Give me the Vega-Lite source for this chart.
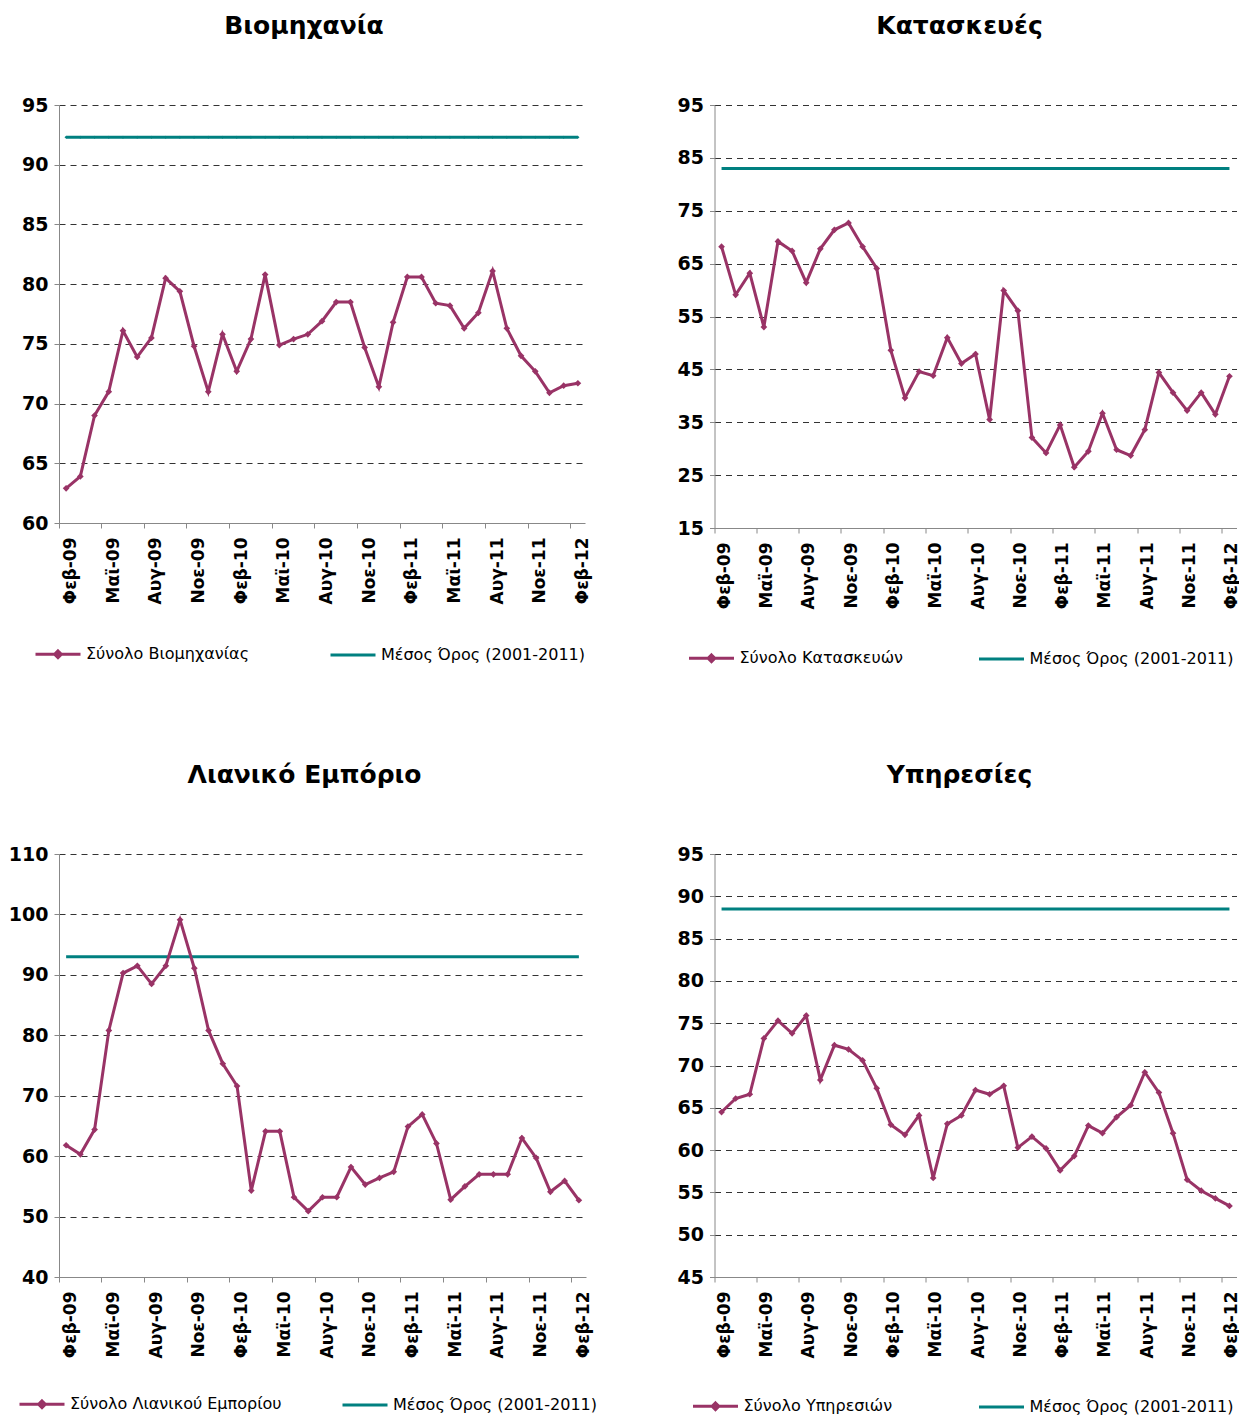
{
  "$schema": "https://vega.github.io/schema/vega-lite/v6.json",
  "padding": {"left": 5, "top": 14, "right": 0, "bottom": 0},
  "background": "white",
  "data": {"values": [
    {"m":"Φεβ-09","ind":62.9,"indAvg":92.3,"con":68.2,"conAvg":83,"ret":61.8,"retAvg":93,"ser":64.5,"serAvg":88.5},
    {"m":"Μαρ-09","ind":63.9,"indAvg":92.3,"con":59.1,"conAvg":83,"ret":60.3,"retAvg":93,"ser":66.1,"serAvg":88.5},
    {"m":"Απρ-09","ind":69.0,"indAvg":92.3,"con":63.2,"conAvg":83,"ret":64.4,"retAvg":93,"ser":66.6,"serAvg":88.5},
    {"m":"Μαϊ-09","ind":71.0,"indAvg":92.3,"con":53.0,"conAvg":83,"ret":80.8,"retAvg":93,"ser":73.2,"serAvg":88.5},
    {"m":"Ιουν-09","ind":76.1,"indAvg":92.3,"con":69.2,"conAvg":83,"ret":90.3,"retAvg":93,"ser":75.3,"serAvg":88.5},
    {"m":"Ιουλ-09","ind":73.9,"indAvg":92.3,"con":67.4,"conAvg":83,"ret":91.5,"retAvg":93,"ser":73.8,"serAvg":88.5},
    {"m":"Αυγ-09","ind":75.5,"indAvg":92.3,"con":61.4,"conAvg":83,"ret":88.5,"retAvg":93,"ser":75.9,"serAvg":88.5},
    {"m":"Σεπ-09","ind":80.5,"indAvg":92.3,"con":67.8,"conAvg":83,"ret":91.5,"retAvg":93,"ser":68.3,"serAvg":88.5},
    {"m":"Οκτ-09","ind":79.4,"indAvg":92.3,"con":71.4,"conAvg":83,"ret":99.1,"retAvg":93,"ser":72.4,"serAvg":88.5},
    {"m":"Νοε-09","ind":74.8,"indAvg":92.3,"con":72.7,"conAvg":83,"ret":91.1,"retAvg":93,"ser":71.9,"serAvg":88.5},
    {"m":"Δεκ-09","ind":71.0,"indAvg":92.3,"con":68.2,"conAvg":83,"ret":80.8,"retAvg":93,"ser":70.6,"serAvg":88.5},
    {"m":"Ιαν-10","ind":75.8,"indAvg":92.3,"con":64.1,"conAvg":83,"ret":75.3,"retAvg":93,"ser":67.3,"serAvg":88.5},
    {"m":"Φεβ-10","ind":72.7,"indAvg":92.3,"con":48.6,"conAvg":83,"ret":71.6,"retAvg":93,"ser":63.0,"serAvg":88.5},
    {"m":"Μαρ-10","ind":75.4,"indAvg":92.3,"con":39.6,"conAvg":83,"ret":54.3,"retAvg":93,"ser":61.8,"serAvg":88.5},
    {"m":"Απρ-10","ind":80.8,"indAvg":92.3,"con":44.6,"conAvg":83,"ret":64.1,"retAvg":93,"ser":64.1,"serAvg":88.5},
    {"m":"Μαϊ-10","ind":74.9,"indAvg":92.3,"con":43.8,"conAvg":83,"ret":64.1,"retAvg":93,"ser":56.7,"serAvg":88.5},
    {"m":"Ιουν-10","ind":75.4,"indAvg":92.3,"con":51.0,"conAvg":83,"ret":53.2,"retAvg":93,"ser":63.1,"serAvg":88.5},
    {"m":"Ιουλ-10","ind":75.8,"indAvg":92.3,"con":46.1,"conAvg":83,"ret":50.9,"retAvg":93,"ser":64.1,"serAvg":88.5},
    {"m":"Αυγ-10","ind":76.9,"indAvg":92.3,"con":47.9,"conAvg":83,"ret":53.2,"retAvg":93,"ser":67.1,"serAvg":88.5},
    {"m":"Σεπ-10","ind":78.5,"indAvg":92.3,"con":35.5,"conAvg":83,"ret":53.2,"retAvg":93,"ser":66.6,"serAvg":88.5},
    {"m":"Οκτ-10","ind":78.5,"indAvg":92.3,"con":59.9,"conAvg":83,"ret":58.2,"retAvg":93,"ser":67.6,"serAvg":88.5},
    {"m":"Νοε-10","ind":74.7,"indAvg":92.3,"con":56.1,"conAvg":83,"ret":55.3,"retAvg":93,"ser":60.3,"serAvg":88.5},
    {"m":"Δεκ-10","ind":71.4,"indAvg":92.3,"con":32.1,"conAvg":83,"ret":56.4,"retAvg":93,"ser":61.6,"serAvg":88.5},
    {"m":"Ιαν-11","ind":76.8,"indAvg":92.3,"con":29.2,"conAvg":83,"ret":57.4,"retAvg":93,"ser":60.2,"serAvg":88.5},
    {"m":"Φεβ-11","ind":80.6,"indAvg":92.3,"con":34.5,"conAvg":83,"ret":64.9,"retAvg":93,"ser":57.6,"serAvg":88.5},
    {"m":"Μαρ-11","ind":80.6,"indAvg":92.3,"con":26.5,"conAvg":83,"ret":66.9,"retAvg":93,"ser":59.3,"serAvg":88.5},
    {"m":"Απρ-11","ind":78.4,"indAvg":92.3,"con":29.5,"conAvg":83,"ret":62.1,"retAvg":93,"ser":62.9,"serAvg":88.5},
    {"m":"Μαϊ-11","ind":78.2,"indAvg":92.3,"con":36.7,"conAvg":83,"ret":52.8,"retAvg":93,"ser":62.0,"serAvg":88.5},
    {"m":"Ιουν-11","ind":76.3,"indAvg":92.3,"con":29.8,"conAvg":83,"ret":55.0,"retAvg":93,"ser":63.9,"serAvg":88.5},
    {"m":"Ιουλ-11","ind":77.6,"indAvg":92.3,"con":28.7,"conAvg":83,"ret":57.0,"retAvg":93,"ser":65.3,"serAvg":88.5},
    {"m":"Αυγ-11","ind":81.1,"indAvg":92.3,"con":33.6,"conAvg":83,"ret":57.0,"retAvg":93,"ser":69.2,"serAvg":88.5},
    {"m":"Σεπ-11","ind":76.3,"indAvg":92.3,"con":44.4,"conAvg":83,"ret":57.0,"retAvg":93,"ser":66.8,"serAvg":88.5},
    {"m":"Οκτ-11","ind":74.0,"indAvg":92.3,"con":40.6,"conAvg":83,"ret":63.0,"retAvg":93,"ser":62.0,"serAvg":88.5},
    {"m":"Νοε-11","ind":72.7,"indAvg":92.3,"con":37.2,"conAvg":83,"ret":59.7,"retAvg":93,"ser":56.5,"serAvg":88.5},
    {"m":"Δεκ-11","ind":70.9,"indAvg":92.3,"con":40.6,"conAvg":83,"ret":54.1,"retAvg":93,"ser":55.2,"serAvg":88.5},
    {"m":"Ιαν-12","ind":71.5,"indAvg":92.3,"con":36.5,"conAvg":83,"ret":55.9,"retAvg":93,"ser":54.3,"serAvg":88.5},
    {"m":"Φεβ-12","ind":71.7,"indAvg":92.3,"con":43.7,"conAvg":83,"ret":52.7,"retAvg":93,"ser":53.4,"serAvg":88.5}
  ]},
  "resolve": {"scale": {"x": "independent", "y": "independent", "color": "independent"}, "legend": {"color": "independent"}, "axis": {"x": "independent", "y": "independent"}},
  "vconcat": [
    {
      "resolve": {"scale": {"x": "independent", "y": "independent", "color": "independent"}, "legend": {"color": "independent"}, "axis": {"x": "independent", "y": "independent"}},
      "spacing": 69.5,
      "hconcat": [
        {
          "width": 526, "height": 418,
          "title": {"text": "Βιομηχανία", "frame": "group", "dx": -18},
          "encoding": {
            "x": {"field": "m", "type": "ordinal", "sort": null, "bandPosition": 0.5,
              "scale": {"type": "band", "paddingInner": 0, "paddingOuter": 0},
              "axis": {"values": ["Φεβ-09","Μαϊ-09","Αυγ-09","Νοε-09","Φεβ-10","Μαϊ-10","Αυγ-10","Νοε-10","Φεβ-11","Μαϊ-11","Αυγ-11","Νοε-11","Φεβ-12"], "bandPosition": 0, "labelOffset": 5, "labelAngle": -90, "title": null}},
            "color": {"scale": {"domain": ["Σύνολο Βιομηχανίας", "Μέσος Όρος (2001-2011)"], "range": ["#993366", "#008080"]},
              "legend": {"orient": "none", "legendX": -25, "legendY": 525, "direction": "horizontal", "title": null, "symbolSize": 2025, "symbolStrokeWidth": 3, "labelFontSize": 16, "labelColor": "#000", "columnPadding": 74, "labelLimit": 400,
                "encode": {"symbols": {"update": {"shape": {"signal": "datum.value == 'Μέσος Όρος (2001-2011)' ? 'M-1,0H1' : 'M-1,0H1M0,-0.15L0.15,0L0,0.15L-0.15,0Z'"}}}}}}
          },
          "layer": [
            {"mark": {"type": "line", "strokeWidth": 3, "point": {"shape": "diamond", "size": 10, "filled": true}},
              "encoding": {"y": {"field": "indAvg", "type": "quantitative", "scale": {"domain": [60, 95], "nice": false, "zero": false}, "axis": {"values": [60,65,70,75,80,85,90,95], "title": null}},
                "color": {"datum": "Μέσος Όρος (2001-2011)"}}},
            {"mark": {"type": "line", "strokeWidth": 3, "point": {"shape": "diamond", "size": 45, "filled": true}},
              "encoding": {"y": {"field": "ind", "type": "quantitative", "scale": {"domain": [60, 95], "nice": false, "zero": false}, "axis": {"values": [60,65,70,75,80,85,90,95], "title": null}},
                "color": {"datum": "Σύνολο Βιομηχανίας"}}}
          ]
        },
        {
          "width": 522, "height": 423,
          "title": {"text": "Κατασκευές", "frame": "group", "dx": -16},
          "encoding": {
            "x": {"field": "m", "type": "ordinal", "sort": null, "bandPosition": 0.5,
              "scale": {"type": "band", "paddingInner": 0, "paddingOuter": 0},
              "axis": {"values": ["Φεβ-09","Μαϊ-09","Αυγ-09","Νοε-09","Φεβ-10","Μαϊ-10","Αυγ-10","Νοε-10","Φεβ-11","Μαϊ-11","Αυγ-11","Νοε-11","Φεβ-12"], "bandPosition": 0, "labelOffset": 3, "labelAngle": -90, "title": null}},
            "color": {"scale": {"domain": ["Σύνολο Κατασκευών", "Μέσος Όρος (2001-2011)"], "range": ["#993366", "#008080"]},
              "legend": {"orient": "none", "legendX": -27, "legendY": 529, "direction": "horizontal", "title": null, "symbolSize": 2025, "symbolStrokeWidth": 3, "labelFontSize": 16, "labelColor": "#000", "columnPadding": 69, "labelLimit": 400,
                "encode": {"symbols": {"update": {"shape": {"signal": "datum.value == 'Μέσος Όρος (2001-2011)' ? 'M-1,0H1' : 'M-1,0H1M0,-0.15L0.15,0L0,0.15L-0.15,0Z'"}}}}}}
          },
          "layer": [
            {"mark": {"type": "line", "strokeWidth": 3},
              "encoding": {"y": {"field": "conAvg", "type": "quantitative", "scale": {"domain": [15, 95], "nice": false, "zero": false}, "axis": {"values": [15,25,35,45,55,65,75,85,95], "title": null}},
                "color": {"datum": "Μέσος Όρος (2001-2011)"}}},
            {"mark": {"type": "line", "strokeWidth": 3, "point": {"shape": "diamond", "size": 45, "filled": true}},
              "encoding": {"y": {"field": "con", "type": "quantitative", "scale": {"domain": [15, 95], "nice": false, "zero": false}, "axis": {"values": [15,25,35,45,55,65,75,85,95], "title": null}},
                "color": {"datum": "Σύνολο Κατασκευών"}}}
          ]
        }
      ]
    },
    {
      "resolve": {"scale": {"x": "independent", "y": "independent", "color": "independent"}, "legend": {"color": "independent"}, "axis": {"x": "independent", "y": "independent"}},
      "spacing": 63.5,
      "hconcat": [
        {
          "width": 527, "height": 423,
          "title": {"text": "Λιανικό Εμπόριο", "frame": "group", "dx": -18},
          "encoding": {
            "x": {"field": "m", "type": "ordinal", "sort": null, "bandPosition": 0.5,
              "scale": {"type": "band", "paddingInner": 0, "paddingOuter": 0},
              "axis": {"values": ["Φεβ-09","Μαϊ-09","Αυγ-09","Νοε-09","Φεβ-10","Μαϊ-10","Αυγ-10","Νοε-10","Φεβ-11","Μαϊ-11","Αυγ-11","Νοε-11","Φεβ-12"], "bandPosition": 0, "labelOffset": 5, "labelAngle": -90, "title": null}},
            "color": {"scale": {"domain": ["Σύνολο Λιανικού Εμπορίου", "Μέσος Όρος (2001-2011)"], "range": ["#993366", "#008080"]},
              "legend": {"orient": "none", "legendX": -41, "legendY": 526, "direction": "horizontal", "title": null, "symbolSize": 2025, "symbolStrokeWidth": 3, "labelFontSize": 16, "labelColor": "#000", "columnPadding": 54, "labelLimit": 400,
                "encode": {"symbols": {"update": {"shape": {"signal": "datum.value == 'Μέσος Όρος (2001-2011)' ? 'M-1,0H1' : 'M-1,0H1M0,-0.15L0.15,0L0,0.15L-0.15,0Z'"}}}}}}
          },
          "layer": [
            {"mark": {"type": "line", "strokeWidth": 3},
              "encoding": {"y": {"field": "retAvg", "type": "quantitative", "scale": {"domain": [40, 110], "nice": false, "zero": false}, "axis": {"values": [40,50,60,70,80,90,100,110], "title": null}},
                "color": {"datum": "Μέσος Όρος (2001-2011)"}}},
            {"mark": {"type": "line", "strokeWidth": 3, "point": {"shape": "diamond", "size": 45, "filled": true}},
              "encoding": {"y": {"field": "ret", "type": "quantitative", "scale": {"domain": [40, 110], "nice": false, "zero": false}, "axis": {"values": [40,50,60,70,80,90,100,110], "title": null}},
                "color": {"datum": "Σύνολο Λιανικού Εμπορίου"}}}
          ]
        },
        {
          "width": 522, "height": 423,
          "title": {"text": "Υπηρεσίες", "frame": "group", "dx": -16},
          "encoding": {
            "x": {"field": "m", "type": "ordinal", "sort": null, "bandPosition": 0.5,
              "scale": {"type": "band", "paddingInner": 0, "paddingOuter": 0},
              "axis": {"values": ["Φεβ-09","Μαϊ-09","Αυγ-09","Νοε-09","Φεβ-10","Μαϊ-10","Αυγ-10","Νοε-10","Φεβ-11","Μαϊ-11","Αυγ-11","Νοε-11","Φεβ-12"], "bandPosition": 0, "labelOffset": 3, "labelAngle": -90, "title": null}},
            "color": {"scale": {"domain": ["Σύνολο Υπηρεσιών", "Μέσος Όρος (2001-2011)"], "range": ["#993366", "#008080"]},
              "legend": {"orient": "none", "legendX": -23, "legendY": 528, "direction": "horizontal", "title": null, "symbolSize": 2025, "symbolStrokeWidth": 3, "labelFontSize": 16, "labelColor": "#000", "columnPadding": 80, "labelLimit": 400,
                "encode": {"symbols": {"update": {"shape": {"signal": "datum.value == 'Μέσος Όρος (2001-2011)' ? 'M-1,0H1' : 'M-1,0H1M0,-0.15L0.15,0L0,0.15L-0.15,0Z'"}}}}}}
          },
          "layer": [
            {"mark": {"type": "line", "strokeWidth": 3},
              "encoding": {"y": {"field": "serAvg", "type": "quantitative", "scale": {"domain": [45, 95], "nice": false, "zero": false}, "axis": {"values": [45,50,55,60,65,70,75,80,85,90,95], "title": null}},
                "color": {"datum": "Μέσος Όρος (2001-2011)"}}},
            {"mark": {"type": "line", "strokeWidth": 3, "point": {"shape": "diamond", "size": 45, "filled": true}},
              "encoding": {"y": {"field": "ser", "type": "quantitative", "scale": {"domain": [45, 95], "nice": false, "zero": false}, "axis": {"values": [45,50,55,60,65,70,75,80,85,90,95], "title": null}},
                "color": {"datum": "Σύνολο Υπηρεσιών"}}}
          ]
        }
      ]
    }
  ],
  "spacing": 95,
  "config": {
    "font": "DejaVu Sans",
    "view": {"stroke": null},
    "title": {"fontSize": 25, "fontWeight": "bold", "color": "#000", "anchor": "middle", "offset": 57},
    "legend": {"labelFont": "DejaVu Sans"},
    "axisX": {"labelFontSize": 17, "labelFontWeight": "bold", "labelColor": "#000", "domainColor": "#888", "tickColor": "#888", "tickSize": 5, "labelPadding": 9, "grid": false},
    "axisY": {"labelFontSize": 19, "labelFontWeight": "bold", "labelColor": "#000", "domainColor": "#888", "tickColor": "#888", "tickSize": 5, "labelPadding": 6, "grid": true, "gridColor": "#333", "gridDash": [6, 5], "minExtent": 54}
  }
}
